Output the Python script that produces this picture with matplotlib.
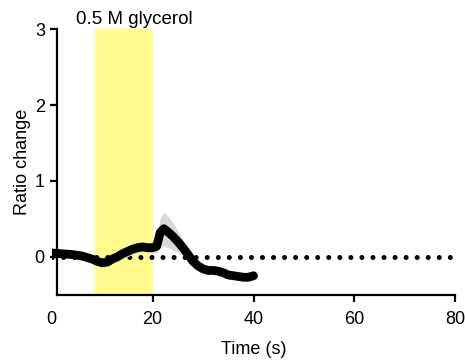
import numpy as np
import matplotlib
matplotlib.use("Agg")
import matplotlib.pyplot as plt

plt.rcParams['font.family'] = ['Liberation Sans', 'DejaVu Sans']

# Dati
tempo = [0, 1, 2, 3, 4, 5, 6, 7, 8, 9, 10, 11, 12, 13, 14, 15, 16, 17, 18, 19, 20,
         20.8, 21.5, 22.2, 23, 24, 25, 26, 27, 28, 29, 30, 31, 32, 33, 34, 35, 36,
         37, 38, 39, 40]
rapporto = [0.05, 0.045, 0.04, 0.035, 0.03, 0.02, 0.01, -0.01, -0.03, -0.06, -0.08,
            -0.07, -0.03, 0.0, 0.04, 0.07, 0.10, 0.12, 0.13, 0.12, 0.12,
            0.14, 0.32, 0.37, 0.33, 0.27, 0.20, 0.12, 0.03, -0.06, -0.12, -0.16,
            -0.18, -0.18, -0.19, -0.21, -0.24, -0.25, -0.26, -0.27, -0.27, -0.25]
errore = [0.02, 0.02, 0.02, 0.02, 0.02, 0.02, 0.02, 0.02, 0.02, 0.03, 0.03,
          0.03, 0.04, 0.05, 0.07, 0.07, 0.07, 0.07, 0.07, 0.07, 0.07,
          0.09, 0.19, 0.22, 0.21, 0.18, 0.14, 0.10, 0.07, 0.05, 0.04, 0.03,
          0.03, 0.03, 0.03, 0.03, 0.03, 0.03, 0.02, 0.02, 0.02, 0.02]

stimolo = (8.6, 20)
etichetta_stimolo = '0.5 M glycerol'
xticks = [0, 20, 40, 60, 80]
yticks = [0, 1, 2, 3]

t = np.array(tempo)
r = np.array(rapporto)
e = np.array(errore)

fig = plt.figure(figsize=(4.65, 3.6), dpi=100)
ax = fig.add_axes([0.1114, 0.1814, 0.979 - 0.1114, 0.9186 - 0.1814])

# Banda dello stimolo
ax.axvspan(stimolo[0], stimolo[1], color='#fffb8c', lw=0, zorder=0)

# Linea di base tratteggiata
ax.plot([0, 80], [0, 0], color='black', linestyle=(0, (0.01, 2.2)), lw=3.6,
        dash_capstyle='round', zorder=1)

# Errore e media
ax.fill_between(t, r - e, r + e, color='#d9d9d9', lw=0, zorder=2)
ax.plot(t, r, color='black', lw=6.3, solid_capstyle='round',
        solid_joinstyle='round', zorder=3)

ax.set_xlim(0, 80)
ax.set_ylim(-0.5, 3)
ax.set_xticks(xticks)
ax.set_yticks(yticks)

ax.spines['top'].set_visible(False)
ax.spines['right'].set_visible(False)
ax.spines['left'].set_position(('data', 1.1))
ax.spines['bottom'].set_bounds(1.1, 80)
for s in ['left', 'bottom']:
    ax.spines[s].set_linewidth(1.6)
ax.tick_params(width=1.6, length=5, labelsize=13, colors='black')
ax.xaxis.get_major_ticks()[0].tick1line.set_visible(False)
ax.tick_params(axis='x', pad=7)
ax.tick_params(axis='y', pad=4)

ax.set_xlabel('Time (s)', fontsize=13, labelpad=9)
ax.set_ylabel('Ratio change', fontsize=13, labelpad=3)

ax.text(16.3, 3.02, etichetta_stimolo, ha='center', va='bottom', fontsize=13.5)

fig.savefig('out.png', dpi=100)
